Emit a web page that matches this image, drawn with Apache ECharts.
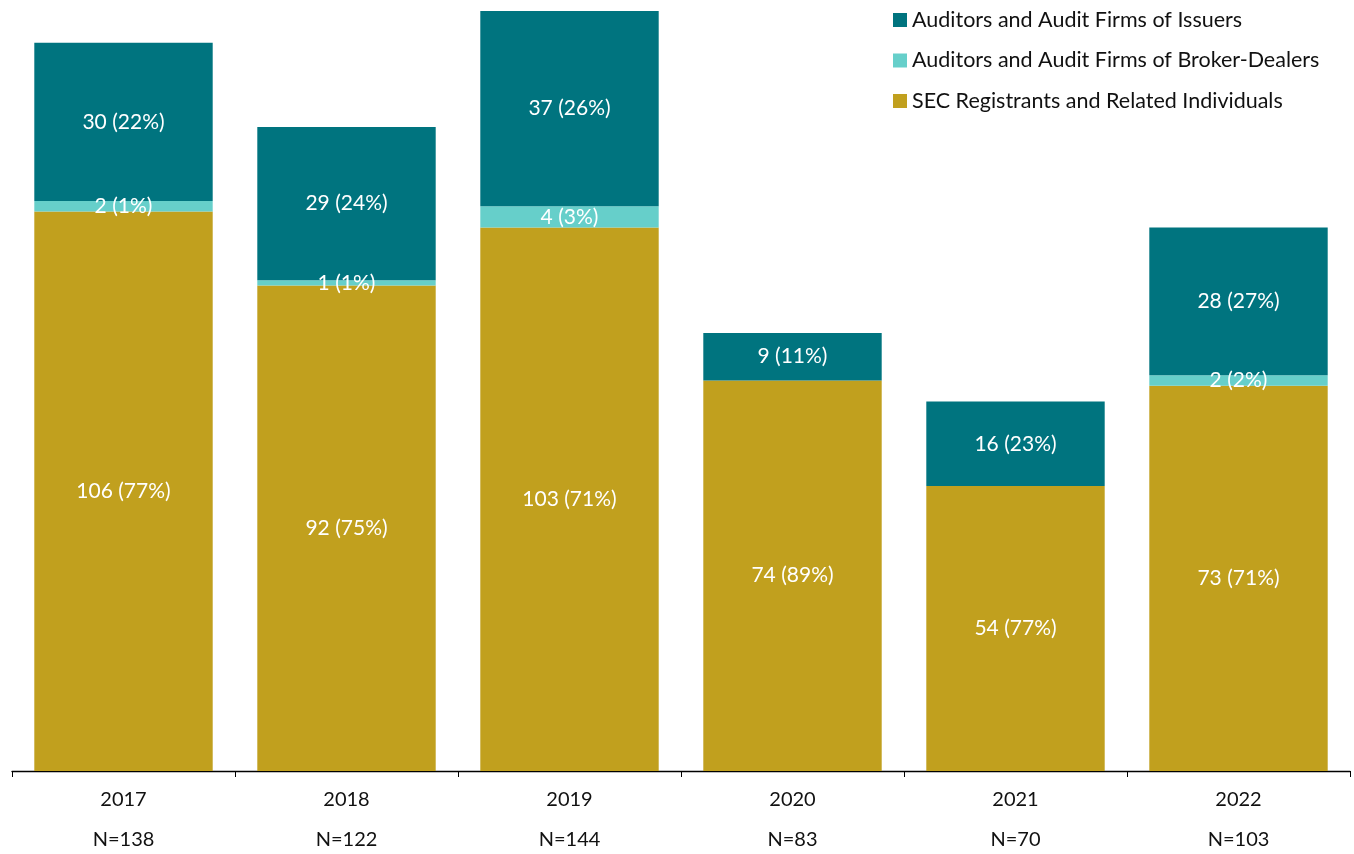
<!DOCTYPE html>
<html><head><meta charset="utf-8">
<script src="https://cdn.jsdelivr.net/npm/echarts@6/dist/echarts.min.js"></script>
<style>html,body{margin:0;padding:0;background:#fff}#c{width:1354px;height:854px}</style>
</head><body><div id="c"></div>
<script>
const years = ['2017','2018','2019','2020','2021','2022'];
const totals = [138,122,144,83,70,103];
const secVals = [106,92,103,74,54,73];
const secPct = [77,75,71,89,77,71];
const brokerVals = [2,1,4,0,0,2];
const brokerPct = [1,1,3,0,0,2];
const issuerVals = [30,29,37,9,16,28];
const issuerPct = [22,24,26,11,23,27];
const names = ['Auditors and Audit Firms of Issuers','Auditors and Audit Firms of Broker-Dealers','SEC Registrants and Related Individuals'];
const colors = {issuer:'#00747F', broker:'#66CFCA', sec:'#C1A01E'};
const FONT = 'Lato';
function mk(name, vals, pct, color){
  return {
    name, type:'bar', stack:'t', barWidth:'80%', itemStyle:{color},
    data: vals.map(v => v === 0 ? null : v),
    label:{show:true, position:'inside', color:'#fff', fontFamily:FONT, fontSize:21,
      formatter: p => p.value + ' (' + pct[p.dataIndex] + '%)'}
  };
}
const chart = echarts.init(document.getElementById('c'));
chart.setOption({
  animation:false,
  textStyle:{fontFamily:FONT},
  legend:{orient:'vertical', left:888, top:4, padding:5, itemWidth:14, itemHeight:14, itemGap:18.5,
    data:names, icon:'rect', textStyle:{fontFamily:FONT, fontSize:21.5, color:'#111', lineHeight:22}},
  grid:{left:12, right:4, top:11, bottom:83, outerBoundsMode:'none', containLabel:false},
  xAxis:{type:'category', data:years,
    axisLine:{lineStyle:{color:'#000', width:1.3}},
    axisTick:{show:true, length:6, lineStyle:{color:'#000'}},
    axisLabel:{margin:9, color:'#111', fontFamily:FONT, fontSize:20, lineHeight:40,
      formatter:(v,i) => v + '\nN=' + totals[i]}},
  yAxis:{type:'value', min:0, max:144, show:false, splitLine:{show:false}},
  series:[
    mk(names[2], secVals, secPct, colors.sec),
    mk(names[1], brokerVals, brokerPct, colors.broker),
    mk(names[0], issuerVals, issuerPct, colors.issuer)
  ]
});
</script></body></html>
